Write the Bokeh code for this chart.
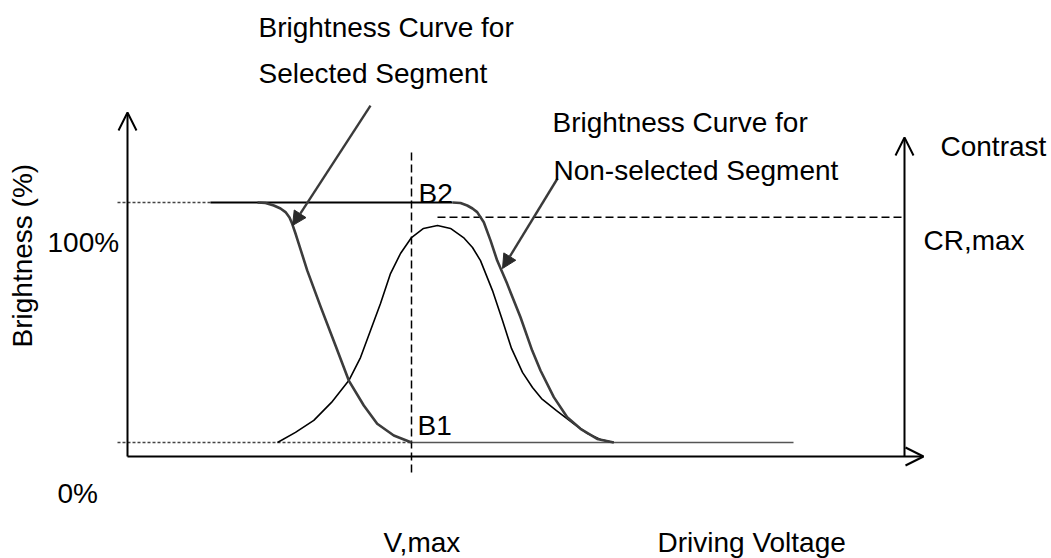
import numpy as np
from bokeh.plotting import figure
from bokeh.models import Range1d, Arrow, NormalHead, OpenHead, Label
from bokeh.embed import file_html
from bokeh.resources import INLINE

# ---------------- data (voltage in arbitrary units, brightness in %) ----------------
b1_level = 0.0      # brightness level B1
b2_level = 100.0    # brightness level B2
v_max = 28.4        # driving voltage at maximum contrast
cr_max = 93.9       # maximum contrast level (drawn on brightness scale)

# brightness curve for selected segment
sel_v = [13.0, 13.8, 14.63, 15.3, 15.8, 16.2, 16.47, 16.8, 17.13, 17.97, 19.3, 20.8,
         22.13, 23.63, 24.97, 26.63, 28.4]
sel_b = [100, 99.8, 98.75, 97.5, 96.0, 93.75, 91.1, 87.1, 82.8, 71.7, 56.7, 40.4,
         25.8, 15.4, 7.8, 2.9, 0]

# contrast curve (bell)
bell_v = [15.0, 16.8, 18.63, 20.4, 22.13, 23.3, 24.3, 25.3, 26.3, 27.3, 28.4, 29.6, 31.0,
          32.3, 33.6, 34.5, 35.3, 36.5, 37.5, 38.4, 39.5, 40.5, 41.4, 42.9, 44.6, 46.0, 47.3, 48.6]
bell_b = [0, 4.2, 9.2, 16.7, 25.8, 35.4, 46.7, 57.9, 70.4, 78.75, 85.4, 89.2, 90.4,
          89.2, 85.4, 81.25, 75.8, 63.3, 50.8, 39.2, 29.2, 22.9, 18.3, 13.3, 7.9, 3.75, 1.25, 0]

# brightness curve for non-selected segment
nsel_v = [32.5, 33.3, 33.97, 34.5, 34.97, 35.63, 36.3, 36.97, 37.97, 39.3, 40.47, 41.3,
          42.63, 43.97, 45.3, 46.97, 48.63]
nsel_b = [100, 99.8, 98.75, 97.5, 96.0, 91.8, 84.2, 75.8, 66.1, 52.2, 38.3, 30.0,
          18.9, 10.5, 5.7, 1.5, 0]

# level line extents
dotted_start_v = -1.0
b2_solid_start_v = 8.3
b2_solid_end_v = 32.5
b1_solid_end_v = 66.6
cr_start_v = 31.0

# axes extents
axis_b0 = -5.83
x_axis_end_v = 79.6
left_axis_top_b = 137.5
right_axis_v = 77.7
right_axis_top_b = 127.1
vmax_dash_b = [120.8, -13.75]

# pointer arrows (start v, start b, end v, end b)
ptr_sel = (24.3, 140.4, 16.5, 90.4)
ptr_nsel = (43.0, 110.0, 37.5, 72.5)

FONT = "Liberation Sans"
FS = "28px"

p = figure(width=1051, height=558, x_range=Range1d(-12.7, 92.4), y_range=Range1d(-48.3333, 184.1667),
           output_backend="svg", toolbar_location=None, x_axis_type=None, y_axis_type=None,
           min_border=0, min_border_left=0, min_border_right=0, min_border_top=0, min_border_bottom=0)
p.grid.visible = False
p.outline_line_color = None
p.background_fill_color = "white"
p.border_fill_color = "white"

# axes
p.add_layout(Arrow(end=OpenHead(size=18, line_width=2, line_color="black"),
                   x_start=0, y_start=axis_b0, x_end=0, y_end=left_axis_top_b,
                   line_width=2, line_color="black"))
p.add_layout(Arrow(end=OpenHead(size=18, line_width=2, line_color="black"),
                   x_start=0, y_start=axis_b0, x_end=x_axis_end_v, y_end=axis_b0,
                   line_width=2, line_color="black"))
p.add_layout(Arrow(end=OpenHead(size=18, line_width=2, line_color="black"),
                   x_start=right_axis_v, y_start=axis_b0, x_end=right_axis_v, y_end=right_axis_top_b,
                   line_width=2, line_color="black"))

# level lines
p.line([dotted_start_v, b2_solid_start_v], [b2_level, b2_level], line_dash="3 2", line_width=1.5, line_color="#444444")
p.line([b2_solid_start_v, b2_solid_end_v], [b2_level, b2_level], line_width=2, line_color="black")
p.line([dotted_start_v, v_max], [b1_level, b1_level], line_dash="3 2", line_width=1.5, line_color="#444444")
p.line([v_max, b1_solid_end_v], [b1_level, b1_level], line_width=1.5, line_color="#555555")

# dashed markers
p.line([v_max, v_max], vmax_dash_b, line_dash="8 4", line_width=1.5, line_color="black")
p.line([cr_start_v, right_axis_v], [cr_max, cr_max], line_dash="8 4", line_width=1.5, line_color="black")

# curves
p.line(bell_v, bell_b, line_width=1.6, line_color="black", line_join="round")
p.line(sel_v, sel_b, line_width=2.6, line_color="#3c3c3c", line_join="round")
p.line(nsel_v, nsel_b, line_width=2.6, line_color="#3c3c3c", line_join="round")

# pointer arrows
for (xs, ys, xe, ye) in (ptr_sel, ptr_nsel):
    p.add_layout(Arrow(end=NormalHead(size=14, fill_color="#2a2a2a", line_color="#2a2a2a", line_width=1),
                       x_start=xs, y_start=ys, x_end=xe, y_end=ye,
                       line_width=2.4, line_color="#3a3a3a"))

labels = [
    ("Brightness Curve for", 13.1, 172.95, 0),
    ("Selected Segment", 13.1, 153.8, 0),
    ("Brightness Curve for", 42.5, 133.4, 0),
    ("Non-selected Segment", 42.6, 113.4, 0),
    ("Contrast", 81.3, 123.4, 0),
    ("CR,max", 79.6, 84.2, 0),
    ("100%", -8.0, 83.4, 0),
    ("B2", 29.1, 103.8, 0),
    ("B1", 29.0, 7.1, 0),
    ("0%", -7.0, -21.2, 0),
    ("V,max", 25.6, -41.6, 0),
    ("Driving Voltage", 53.0, -41.6, 0),
    ("Brightness (%)", -10.5, 39.6, np.pi / 2),
]
for txt, x, y, ang in labels:
    p.add_layout(Label(x=x, y=y, text=txt, angle=ang, text_font=FONT, text_font_size=FS,
                       text_color="black", text_align="left", text_baseline="alphabetic"))

open("out.html", "w").write(file_html(p, INLINE))
